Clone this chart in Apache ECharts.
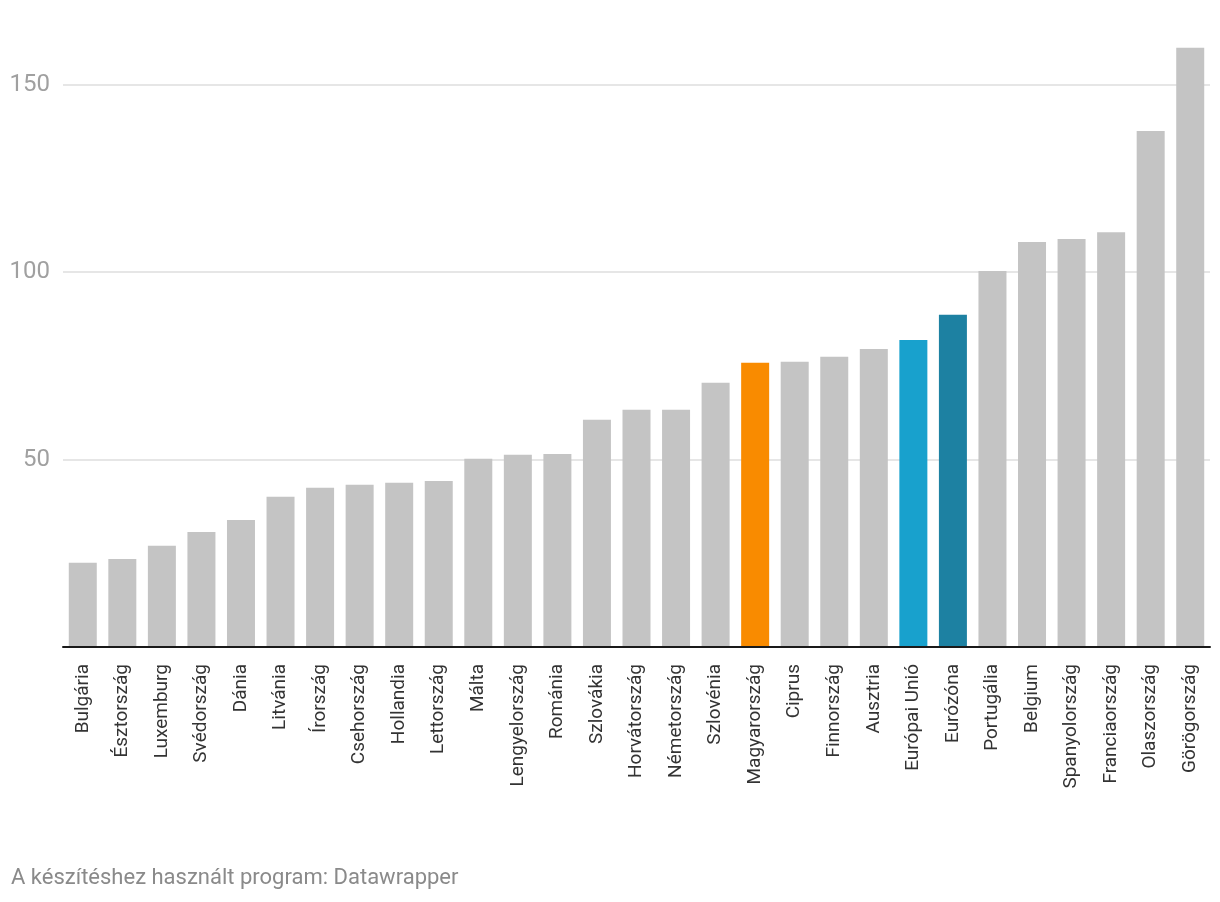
<!DOCTYPE html>
<html>
<head>
<meta charset="utf-8">
<script src="https://cdn.jsdelivr.net/npm/echarts@6/dist/echarts.min.js"></script>
<style>
  html, body { margin: 0; padding: 0; background: #ffffff; }
  #chart { width: 1220px; height: 902px; }
</style>
</head>
<body>
<div id="chart"></div>
<script>
const categories = ["Bulgária","Észtország","Luxemburg","Svédország","Dánia","Litvánia","Írország","Csehország","Hollandia","Lettország","Málta","Lengyelország","Románia","Szlovákia","Horvátország","Németország","Szlovénia","Magyarország","Ciprus","Finnország","Ausztria","Európai Unió","Eurózóna","Portugália","Belgium","Spanyolország","Franciaország","Olaszország","Görögország"];
const values = [22.5,23.5,27.0,30.7,33.9,40.1,42.5,43.3,43.8,44.3,50.2,51.3,51.5,60.6,63.3,63.3,70.5,75.8,76.1,77.4,79.5,81.9,88.6,100.3,108.0,108.8,110.6,137.6,159.8];
const highlightColors = { "Magyarország": "#f98b00", "Európai Unió": "#18a1cd", "Eurózóna": "#1d81a2" };
const baseColor = "#c4c4c4";
const yTicks = [0, 50, 100, 150];
const footerText = "A készítéshez használt program: Datawrapper";

const chart = echarts.init(document.getElementById('chart'), null, { renderer: 'canvas' });
const font = 'Roboto, "Noto Sans", sans-serif';

chart.setOption({
  animation: false,
  backgroundColor: '#ffffff',
  textStyle: { fontFamily: font },
  grid: { left: 63, right: 10, top: 47, bottom: 255, containLabel: false },
  xAxis: {
    type: 'category',
    data: categories,
    axisLine: { show: true, lineStyle: { color: '#1a1a1a', width: 2 } },
    axisTick: { show: false },
    axisLabel: {
      rotate: 90,
      interval: 0,
      margin: 17,
      color: '#333333',
      fontSize: 19,
      fontFamily: font
    },
    z: 10
  },
  yAxis: {
    type: 'value',
    min: yTicks[0],
    max: 160,
    interval: 50,
    axisLine: { show: false },
    axisTick: { show: false },
    axisLabel: {
      color: '#a0a0a0',
      fontSize: 24,
      margin: 13,
      fontFamily: font,
      showMaxLabel: false,
      formatter: function (v) { return yTicks.indexOf(v) >= 0 && v !== 0 ? String(v) : ''; }
    },
    splitLine: {
      show: true,
      lineStyle: { color: ['#e6e6e6', '#e6e6e6', '#e6e6e6', '#e6e6e6', 'rgba(0,0,0,0)'], width: 2 }
    }
  },
  series: [{
    type: 'bar',
    data: values.map((v, i) => ({
      value: v,
      itemStyle: { color: highlightColors[categories[i]] || baseColor }
    })),
    barWidth: 28,
    z: 2
  }],
  graphic: [{
    type: 'text',
    left: 11,
    top: 867,
    style: {
      text: footerText,
      fill: '#8a8a8a',
      fontSize: 22,
      fontFamily: font
    }
  }]
});
</script>
</body>
</html>
